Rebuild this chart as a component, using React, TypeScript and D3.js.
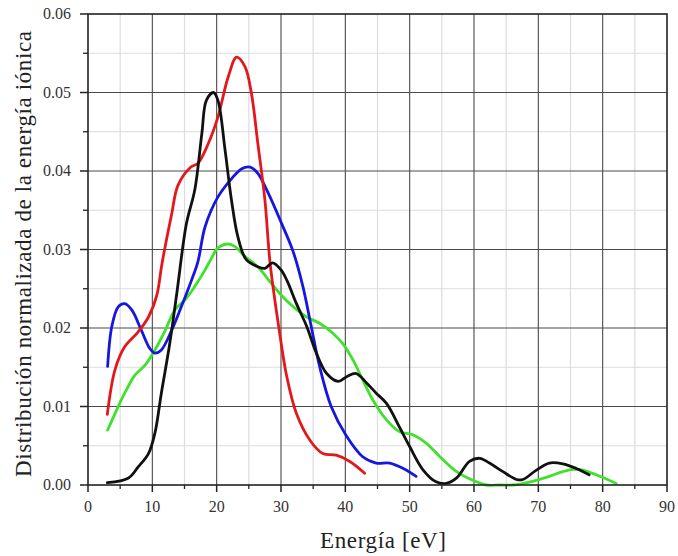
import React from "react";
import * as d3 from "d3";

const W = 678;
const H = 556;

const xTicks = [0, 10, 20, 30, 40, 50, 60, 70, 80, 90];
const yTicks = [0, 0.01, 0.02, 0.03, 0.04, 0.05, 0.06];
const xMinor = [5, 15, 25, 35, 45, 55, 65, 75, 85];
const yMinor = [0.005, 0.015, 0.025, 0.035, 0.045, 0.055];

const redE = [3, 4.2, 5.7, 7.8, 9.4, 10.7, 11.5, 13, 14, 16, 17.1, 18.7, 20.2, 21.8, 23.1, 24.4, 25.4, 26.4, 27.5, 28.3, 29.8, 30.9, 32.4, 34.5, 36.5, 38.6, 40.7, 43];
const redV = [0.009, 0.0147, 0.0176, 0.0195, 0.0214, 0.0242, 0.0282, 0.0345, 0.0382, 0.0405, 0.041, 0.0435, 0.0469, 0.052, 0.0545, 0.0533, 0.0499, 0.0435, 0.0363, 0.0283, 0.0193, 0.0138, 0.0091, 0.0057, 0.004, 0.0038, 0.003, 0.0015];

const blackE = [3, 6.3, 7.8, 9.4, 10.4, 11.4, 12.7, 13.8, 15.3, 16.6, 17.7, 18.4, 19.5, 20.2, 21.3, 22.3, 23.3, 24.6, 26.4, 27.5, 28.7, 30, 30.9, 32.4, 34, 35.5, 37.1, 38.9, 40.2, 41.7, 43.3, 44.8, 46.4, 48.4, 50, 52.1, 54.1, 55.7, 57.3, 59.3, 60.9, 62.4, 64.5, 66.6, 67.6, 69.7, 71.7, 73.8, 75.9, 77.9];
const blackV = [0.0003, 0.0009, 0.0023, 0.004, 0.0066, 0.0117, 0.018, 0.0244, 0.0333, 0.0376, 0.0448, 0.049, 0.05, 0.049, 0.0427, 0.0363, 0.0316, 0.0287, 0.0278, 0.0276, 0.0283, 0.0274, 0.0261, 0.0231, 0.0202, 0.0168, 0.0142, 0.0132, 0.0138, 0.0142, 0.013, 0.0117, 0.0104, 0.0074, 0.0049, 0.0019, 0.0004, 0.0002, 0.0009, 0.003, 0.0034, 0.0028, 0.0017, 0.0007, 0.0007, 0.0019, 0.0028, 0.0027, 0.0021, 0.0013];

const blueE = [3.05, 3.7, 4.7, 5.7, 6.8, 8.3, 9.6, 10.4, 11.4, 13, 14.5, 16.1, 17.1, 18.2, 20.2, 22.3, 23.9, 25.2, 26.4, 28, 30.1, 31.9, 33.4, 34.7, 36, 37.8, 40.2, 42.7, 44.8, 46.9, 49, 51];
const blueV = [0.0151, 0.0202, 0.0227, 0.0231, 0.0223, 0.0197, 0.0174, 0.0168, 0.0172, 0.0197, 0.0227, 0.0261, 0.0285, 0.0329, 0.0367, 0.039, 0.0403, 0.0405, 0.0397, 0.0372, 0.0333, 0.0297, 0.0253, 0.0202, 0.0151, 0.01, 0.0062, 0.0036, 0.0028, 0.0028, 0.0021, 0.0011];

const greenE = [3.05, 4.2, 5.7, 7.3, 8.9, 10.4, 12, 13.5, 15.1, 16.6, 18.2, 19.2, 20.2, 21.8, 22.8, 24.4, 26.4, 28, 29.8, 31.9, 34, 36, 38.1, 39.6, 41.2, 42.7, 44.3, 46.4, 48.4, 50.5, 52.6, 54.7, 57.3, 59.8, 61.9, 64, 66, 67.6, 69.7, 71.7, 73.8, 75.4, 76.9, 79, 82.1];
const greenV = [0.007, 0.0091, 0.0117, 0.014, 0.0153, 0.0172, 0.0197, 0.0223, 0.0236, 0.0253, 0.0274, 0.0289, 0.0302, 0.0307, 0.0304, 0.0291, 0.0278, 0.0262, 0.0244, 0.0227, 0.0214, 0.0206, 0.0193, 0.018, 0.0159, 0.0134, 0.0108, 0.0083, 0.0068, 0.0064, 0.0053, 0.0036, 0.0017, 0.0006, 0, 0, 0, 0.0002, 0.0006, 0.0011, 0.0017, 0.002, 0.0019, 0.0013, 0.0002];

const series = [
  { e: greenE, v: greenV, color: "#3ee22b" },
  { e: blueE, v: blueV, color: "#1616e0" },
  { e: redE, v: redV, color: "#e3171c" },
  { e: blackE, v: blackV, color: "#111111" },
];

const left = 88;
const right = 667;
const top = 14;
const bottom = 485;

export default function App() {
  const x = d3.scaleLinear().domain([0, 90]).range([left, right]);
  const y = d3.scaleLinear().domain([0, 0.06]).range([bottom, top]);
  const line = d3
    .line<[number, number]>()
    .x((d) => x(d[0]))
    .y((d) => y(d[1]))
    .curve(d3.curveCatmullRom.alpha(0.5));
  const font = "'Liberation Serif', 'DejaVu Serif', serif";

  return (
    <svg width={W} height={H} style={{ position: "absolute", left: 0, top: 0, background: "#fff" }}>
      <rect x={0} y={0} width={W} height={H} fill="#fff" />
      {xMinor.map((t) => (
        <line key={"xm" + t} x1={x(t)} x2={x(t)} y1={top} y2={bottom} stroke="#dcdcdc" strokeWidth={1.2} />
      ))}
      {yMinor.map((t) => (
        <line key={"ym" + t} x1={left} x2={right} y1={y(t)} y2={y(t)} stroke="#dcdcdc" strokeWidth={1.2} />
      ))}
      {xTicks.slice(1, -1).map((t) => (
        <line key={"xg" + t} x1={x(t)} x2={x(t)} y1={top} y2={bottom} stroke="#4a4a4a" strokeWidth={1.1} />
      ))}
      {yTicks.slice(1, -1).map((t) => (
        <line key={"yg" + t} x1={left} x2={right} y1={y(t)} y2={y(t)} stroke="#4a4a4a" strokeWidth={1.1} />
      ))}
      {series.map((s, i) => (
        <path
          key={i}
          d={line(s.e.map((e, j) => [e, s.v[j]] as [number, number])) || ""}
          fill="none"
          stroke={s.color}
          strokeWidth={2.8}
          strokeLinejoin="round"
          strokeLinecap="round"
        />
      ))}
      <rect x={left} y={top} width={right - left} height={bottom - top} fill="none" stroke="#222" strokeWidth={1.6} />
      {xTicks.map((t) => (
        <line key={"xt" + t} x1={x(t)} x2={x(t)} y1={bottom} y2={bottom + 7} stroke="#222" strokeWidth={1.5} />
      ))}
      {xMinor.map((t) => (
        <line key={"xmt" + t} x1={x(t)} x2={x(t)} y1={bottom} y2={bottom + 4} stroke="#222" strokeWidth={1.3} />
      ))}
      {yTicks.map((t) => (
        <line key={"yt" + t} x1={left - 8} x2={left} y1={y(t)} y2={y(t)} stroke="#222" strokeWidth={1.5} />
      ))}
      {yMinor.map((t) => (
        <line key={"ymt" + t} x1={left - 5} x2={left} y1={y(t)} y2={y(t)} stroke="#222" strokeWidth={1.3} />
      ))}
      {xTicks.map((t) => (
        <text key={"xl" + t} x={x(t)} y={bottom + 27} textAnchor="middle" fontFamily={font} fontSize={16} fill="#333">
          {t}
        </text>
      ))}
      {yTicks.map((t) => (
        <text key={"yl" + t} x={left - 17} y={y(t) + 5} textAnchor="end" fontFamily={font} fontSize={16} fill="#333">
          {t.toFixed(2)}
        </text>
      ))}
      <text
        x={383}
        y={548}
        textAnchor="middle"
        fontFamily={font}
        fontSize={23}
        fill="#222"
        textLength={126}
        lengthAdjust="spacing"
      >
        Energía [eV]
      </text>
      <text
        transform={`translate(31, 254) rotate(-90)`}
        textAnchor="middle"
        fontFamily={font}
        fontSize={23}
        fill="#222"
        textLength={446}
        lengthAdjust="spacing"
      >
        Distribución normalizada de la energía iónica
      </text>
    </svg>
  );
}
